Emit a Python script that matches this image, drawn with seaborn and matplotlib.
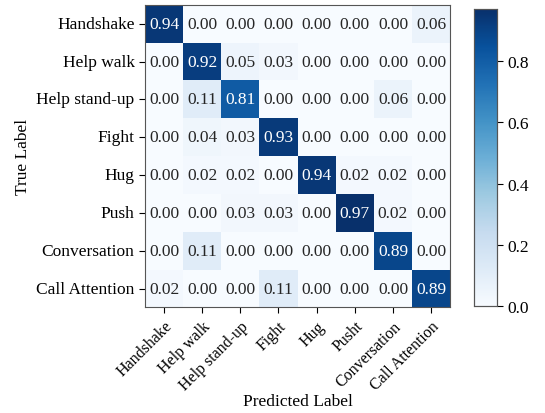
import numpy as np
import seaborn as sns
import matplotlib
matplotlib.use('Agg')
import matplotlib.pyplot as plt

true_labels = ['Handshake', 'Help walk', 'Help stand-up', 'Fight', 'Hug', 'Push',
               'Conversation', 'Call Attention']
pred_labels = ['Handshake', 'Help walk', 'Help stand-up', 'Fight', 'Hug', 'Pusht',
               'Conversation', 'Call Attention']

# normalized confusion matrix (rows = true, cols = predicted)
row_handshake = [0.94, 0.00, 0.00, 0.00, 0.00, 0.00, 0.00, 0.06]
row_help_walk = [0.00, 0.92, 0.05, 0.03, 0.00, 0.00, 0.00, 0.00]
row_stand_up = [0.00, 0.11, 0.81, 0.00, 0.00, 0.00, 0.06, 0.00]
row_fight = [0.00, 0.04, 0.03, 0.93, 0.00, 0.00, 0.00, 0.00]
row_hug = [0.00, 0.02, 0.02, 0.00, 0.94, 0.02, 0.02, 0.00]
row_push = [0.00, 0.00, 0.03, 0.03, 0.00, 0.97, 0.02, 0.00]
row_conversation = [0.00, 0.11, 0.00, 0.00, 0.00, 0.00, 0.89, 0.00]
row_call_attention = [0.02, 0.00, 0.00, 0.11, 0.00, 0.00, 0.00, 0.89]

cm = np.array([row_handshake, row_help_walk, row_stand_up, row_fight,
               row_hug, row_push, row_conversation, row_call_attention])

plt.rcParams['font.family'] = ['Liberation Serif', 'DejaVu Serif']
plt.rcParams['font.size'] = 12

fig = plt.figure(figsize=(5.45, 4.14), dpi=100)
ax = fig.add_axes([0.266, 0.255, 0.560, 0.731])
cax = fig.add_axes([0.870, 0.258, 0.042, 0.718])

sns.heatmap(cm, annot=True, fmt='.2f', cmap='Blues', vmin=0, vmax=cm.max(),
            xticklabels=pred_labels, yticklabels=true_labels,
            annot_kws={'size': 12.5}, ax=ax, cbar_ax=cax)

for s in list(ax.spines.values()) + list(cax.spines.values()):
    s.set_visible(True)
    s.set_color('#555555')
    s.set_linewidth(0.8)

ax.tick_params(axis='both', length=4, width=0.8, labelsize=12.5)
cax.tick_params(length=4, width=0.8, labelsize=12.5)
ax.set_yticklabels(true_labels, rotation=0)
ax.set_xticklabels(pred_labels, rotation=45, ha='right', rotation_mode='anchor',
                   fontsize=11.5)
ax.set_xlabel('Predicted Label', fontsize=12.5, labelpad=0)
ax.set_ylabel('True Label', fontsize=12.5)

fig.savefig('out.png', dpi=100)
